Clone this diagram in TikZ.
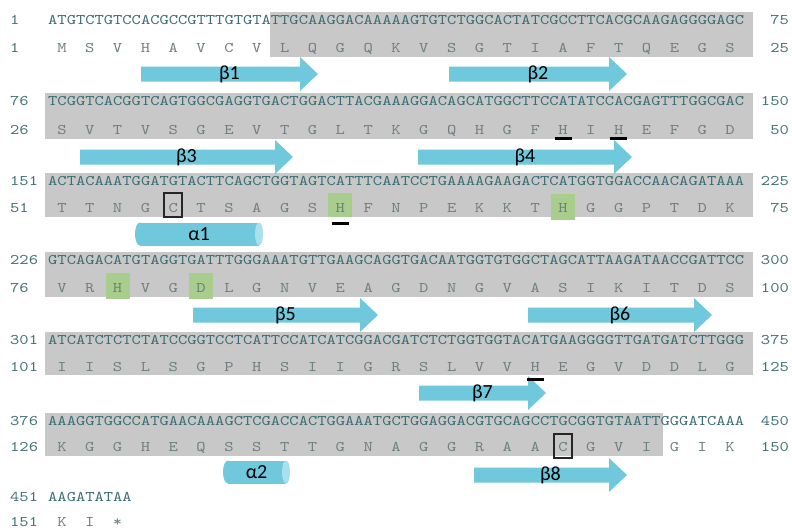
\documentclass[tikz,border=0pt]{standalone}
\usepackage{fontspec}
\usetikzlibrary{calc,backgrounds}
\newfontfamily\seqfont{lmmono10-regular.otf}[FakeStretch=1.2]
\newfontfamily\labfont{Carlito}
\definecolor{dnacol}{RGB}{58,110,116}
\definecolor{protcol}{RGB}{110,128,130}
\definecolor{numcol}{RGB}{62,115,120}
\definecolor{graybox}{RGB}{200,200,200}
\definecolor{ssecol}{RGB}{112,200,221}
\definecolor{facecol}{RGB}{168,224,238}
\definecolor{greencol}{RGB}{168,205,140}
\tikzset{
  seqtext/.style={inner sep=0pt,text height=9pt,text depth=0pt,font=\seqfont\fontsize{14.73}{16}\selectfont},
  dna/.style={seqtext,text=dnacol,anchor=west},
  prot/.style={seqtext,text=protcol},
  num/.style={seqtext,text=numcol},
  shade/.style={fill=graybox},
  hilite/.style={fill=greencol},
  cbox/.style={draw=black!85,line width=1.6pt},
  uline/.style={draw=black,line width=3pt},
  sse/.style={fill=ssecol},
  sseface/.style={fill=facecol},
  sselabel/.style={inner sep=0pt,font=\labfont\fontsize{20}{21}\selectfont,text=black}
}
\newcommand{\cw}{9.28}
\newcommand{\xz}{48}
% id, dnaY, protY, left dna num, left prot num, dna, protein list, right dna num, right prot num
\newcommand{\seqrow}[9]{%
  \node[dna] (#1d) at (\xz,#2) {#6};
  \node[num,anchor=west] (#1ln) at (10,#2) {#4};
  \node[num,anchor=west] (#1lp) at (10,#3) {#5};
  \node[num,anchor=east] (#1rn) at (789,#2) {#8};
  \node[num,anchor=east] (#1rp) at (789,#3) {#9};
  \foreach \res [count=\i] in {#7} {\node[prot] (#1p\i) at ({\xz+(3*\i-1.5)*\cw},#3) {\res};}
}
% name, x1, x2, yc, label
\newcommand{\betaarrow}[5]{%
  \fill[sse] (#2,{#4-7.5}) -- ({#3-18},{#4-7.5}) -- ({#3-18},{#4-17}) -- (#3,#4)
    -- ({#3-18},{#4+17}) -- ({#3-18},{#4+7.5}) -- (#2,{#4+7.5}) -- cycle;
  \node[sselabel] (#1) at ({(#2+#3)/2},#4) {#5};
}
% name, x1, x2, yc, label
\newcommand{\helixcyl}[5]{%
  \fill[sse] ({#2+5},{#4-11.5}) rectangle ({#3-4},{#4+11.5});
  \fill[sse] ({#2+5},#4) ellipse [x radius=5pt, y radius=11.5pt];
  \fill[sseface] ({#3-4},#4) ellipse [x radius=4pt, y radius=11.5pt];
  \node[sselabel] (#1) at ({(#2+#3)/2},#4) {#5};
}
\begin{document}
\begin{tikzpicture}[x=1pt,y=-1pt]
\useasboundingbox (0,0) rectangle (792,530);

\seqrow{r1}{20}{48}{1}{1}{ATGTCTGTCCACGCCGTTTGTGTATTGCAAGGACAAAAAGTGTCTGGCACTATCGCCTTCACGCAAGAGGGGAGC}{M,S,V,H,A,V,C,V,L,Q,G,Q,K,V,S,G,T,I,A,F,T,Q,E,G,S}{75}{25}
\seqrow{r2}{101}{130}{76}{26}{TCGGTCACGGTCAGTGGCGAGGTGACTGGACTTACGAAAGGACAGCATGGCTTCCATATCCACGAGTTTGGCGAC}{S,V,T,V,S,G,E,V,T,G,L,T,K,G,Q,H,G,F,H,I,H,E,F,G,D}{150}{50}
\seqrow{r3}{181}{208}{151}{51}{ACTACAAATGGATGTACTTCAGCTGGTAGTCATTTCAATCCTGAAAAGAAGACTCATGGTGGACCAACAGATAAA}{T,T,N,G,C,T,S,A,G,S,H,F,N,P,E,K,K,T,H,G,G,P,T,D,K}{225}{75}
\seqrow{r4}{260}{288}{226}{76}{GTCAGACATGTAGGTGATTTGGGAAATGTTGAAGCAGGTGACAATGGTGTGGCTAGCATTAAGATAACCGATTCC}{V,R,H,V,G,D,L,G,N,V,E,A,G,D,N,G,V,A,S,I,K,I,T,D,S}{300}{100}
\seqrow{r5}{340}{367}{301}{101}{ATCATCTCTCTATCCGGTCCTCATTCCATCATCGGACGATCTCTGGTGGTACATGAAGGGGTTGATGATCTTGGG}{I,I,S,L,S,G,P,H,S,I,I,G,R,S,L,V,V,H,E,G,V,D,D,L,G}{375}{125}
\seqrow{r6}{421}{447}{376}{126}{AAAGGTGGCCATGAACAAAGCTCGACCACTGGAAATGCTGGAGGACGTGCAGCCTGCGGTGTAATTGGGATCAAA}{K,G,G,H,E,Q,S,S,T,T,G,N,A,G,G,R,A,A,C,G,V,I,G,I,K}{450}{150}
% last row
\node[dna] (r7d) at (\xz,497) {AAGATATAA};
\node[num,anchor=west] (r7ln) at (10,497) {451};
\node[num,anchor=west] (r7lp) at (10,522) {151};
\foreach \res [count=\i] in {K,I,*} {\node[prot] (r7p\i) at ({\xz+(3*\i-1.5)*\cw},522) {\res};}

\begin{scope}[on background layer]
  \fill[white] (0,0) rectangle (792,530);
  \fill[shade] (270,12) rectangle (753,56.5);
  \fill[shade] (45,93) rectangle (753,138.5);
  \fill[shade] (45,173) rectangle (753,216.5);
  \fill[shade] (45,252) rectangle (753,296.5);
  \fill[shade] (45,332) rectangle (753,375);
  \fill[shade] (45,413) rectangle (663,455.5);
  \fill[hilite] ($(r3p11)+(-12,-15)$) rectangle ($(r3p11)+(12,9)$);
  \fill[hilite] ($(r3p19)+(-12,-14)$) rectangle ($(r3p19)+(12,12)$);
  \fill[hilite] ($(r4p3)+(-12,-15)$) rectangle ($(r4p3)+(12,11)$);
  \fill[hilite] ($(r4p6)+(-12,-15)$) rectangle ($(r4p6)+(12,11)$);
\end{scope}

% boxed cysteines
\draw[cbox] ($(r3p5)+(-9,-15)$) rectangle ($(r3p5)+(9,9)$);
\draw[cbox] ($(r6p19)+(-9,-13)$) rectangle ($(r6p19)+(9,11)$);

% secondary structure
\betaarrow{b1}{141}{318}{74}{β1}
\betaarrow{b2}{449}{627}{74}{β2}
\betaarrow{b3}{80}{293}{157}{β3}
\betaarrow{b4}{418}{632}{157}{β4}
\helixcyl{a1}{135}{263}{234}{α1}
\betaarrow{b5}{193}{378}{315}{β5}
\betaarrow{b6}{528}{712}{315}{β6}
\betaarrow{b7}{419}{546}{393}{β7}
\helixcyl{a2}{223}{290}{472}{α2}
\betaarrow{b8}{474}{627}{475}{β8}

% underlined histidines
\draw[uline] ($(r2p19)+(-8.5,8)$) -- ($(r2p19)+(8.5,8)$);
\draw[uline] ($(r2p21)+(-8.5,8)$) -- ($(r2p21)+(8.5,8)$);
\draw[uline] ($(r3p11)+(-8.5,15)$) -- ($(r3p11)+(8.5,15)$);
\draw[uline] ($(r5p18)+(-8.5,12)$) -- ($(r5p18)+(8.5,12)$);
\end{tikzpicture}
\end{document}
